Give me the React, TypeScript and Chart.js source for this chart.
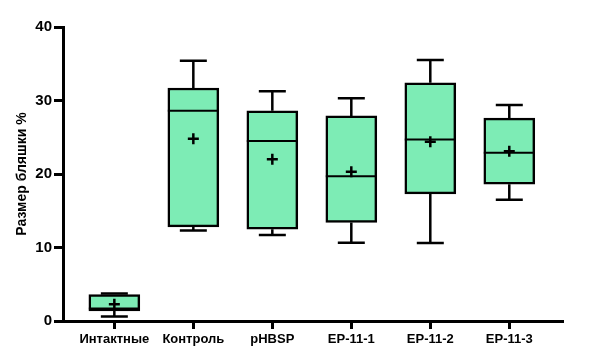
import React, { useEffect, useRef } from "react";
import { Chart, registerables } from "chart.js";

Chart.register(...registerables);

const categories = ["Интактные", "Контроль", "pHBSP", "EP-11-1", "EP-11-2", "EP-11-3"];
const whiskerMin = [0.6, 12.3, 11.7, 10.65, 10.6, 16.5];
const q1 = [1.36, 12.8, 12.5, 13.4, 17.3, 18.6];
const median = [1.7, 28.6, 24.5, 19.7, 24.7, 22.9];
const q3 = [3.6, 31.7, 28.6, 27.9, 32.4, 27.6];
const whiskerMax = [3.75, 35.4, 31.25, 30.3, 35.5, 29.4];
const mean = [2.27, 24.8, 22.0, 20.3, 24.4, 23.1];
const yTicks = [0, 10, 20, 30, 40];

const FILL = "rgb(125, 236, 181)";

const boxPlugin = {
  id: "boxWhiskers",
  afterDatasetDraw(chart: any, args: any) {
    if (args.index !== 0) return;
    const { ctx } = chart;
    const xs = chart.scales.x;
    const ys = chart.scales.y;
    ctx.save();
    ctx.strokeStyle = "#000";
    ctx.lineCap = "butt";
    categories.forEach((_, i) => {
      const x = xs.getPixelForValue(i);
      const el = args.meta.data[i];
      const half = el ? el.width / 2 : 25;
      const cap = 13.5;
      const yMax = ys.getPixelForValue(whiskerMax[i]);
      const yQ3 = ys.getPixelForValue(q3[i]);
      const yQ1 = ys.getPixelForValue(q1[i]);
      const yMin = ys.getPixelForValue(whiskerMin[i]);
      const yMed = ys.getPixelForValue(median[i]);
      ctx.lineWidth = 2.5;
      ctx.beginPath();
      ctx.moveTo(x, yMax);
      ctx.lineTo(x, yQ3);
      ctx.moveTo(x, yQ1);
      ctx.lineTo(x, yMin);
      ctx.moveTo(x - cap, yMax);
      ctx.lineTo(x + cap, yMax);
      ctx.moveTo(x - cap, yMin);
      ctx.lineTo(x + cap, yMin);
      ctx.stroke();
      ctx.lineWidth = 2;
      ctx.beginPath();
      ctx.moveTo(x - half, yMed);
      ctx.lineTo(x + half, yMed);
      ctx.stroke();
    });
    ctx.restore();
  },
};

export default function App() {
  const ref = useRef<HTMLCanvasElement | null>(null);
  useEffect(() => {
    document.body.style.margin = "0";
    Chart.defaults.font.family = "'Liberation Sans', Arial, sans-serif";
    Chart.defaults.color = "#000";
    const chart = new Chart(ref.current as HTMLCanvasElement, {
      type: "bar",
      data: {
        datasets: [
          {
            type: "bar",
            data: categories.map((_, i) => ({ x: i, y: [q1[i], q3[i]] })) as any,
            backgroundColor: FILL,
            borderColor: "#000",
            borderWidth: 2.5,
            borderSkipped: false,
            barThickness: 51,
            order: 2,
          },
          {
            type: "scatter",
            data: categories.map((_, i) => ({ x: i, y: mean[i] })),
            pointStyle: "cross",
            radius: 5.5,
            borderWidth: 2.5,
            borderColor: "#000",
            backgroundColor: "#000",
            order: 1,
          } as any,
        ],
      },
      plugins: [boxPlugin],
      options: {
        animation: false,
        responsive: false,
        maintainAspectRatio: false,
        layout: { padding: { top: 27, right: 44, left: 0, bottom: 0 } },
        plugins: { legend: { display: false }, tooltip: { enabled: false } },
        scales: {
          x: {
            type: "linear",
            offset: false,
            min: -0.65,
            max: 5.68,
            afterBuildTicks: (scale: any) => {
              scale.ticks = categories.map((_, i) => ({ value: i }));
            },
            afterFit: (scale: any) => {
              scale.height = 39;
            },
            ticks: {
              autoSkip: false,
              maxRotation: 0,
              padding: 3,
              font: { size: 13, weight: "bold" },
              callback: (v: any) => categories[v] ?? "",
            },
            grid: {
              offset: false,
              drawOnChartArea: false,
              drawTicks: true,
              tickLength: 8,
              tickWidth: 3,
              tickColor: "#000",
            },
            border: { display: true, width: 3, color: "#000" },
          },
          y: {
            min: 0,
            max: 40,
            afterBuildTicks: (scale: any) => {
              scale.ticks = yTicks.map((v) => ({ value: v }));
            },
            afterFit: (scale: any) => {
              scale.width = 63;
            },
            ticks: {
              padding: 2,
              font: { size: 15, weight: "bold" },
            },
            title: {
              display: true,
              text: "Размер бляшки %",
              font: { size: 14, weight: "bold" },
              padding: { top: 14, bottom: 0 },
            },
            grid: {
              drawOnChartArea: false,
              drawTicks: true,
              tickLength: 9,
              tickWidth: 3,
              tickColor: "#000",
            },
            border: { display: true, width: 3, color: "#000" },
          },
        },
      },
    } as any);
    return () => chart.destroy();
  }, []);
  return (
    <div style={{ position: "absolute", left: 0, top: 0, width: 607, height: 360 }}>
      <canvas ref={ref} width={607} height={360} style={{ width: 607, height: 360 }} />
    </div>
  );
}
